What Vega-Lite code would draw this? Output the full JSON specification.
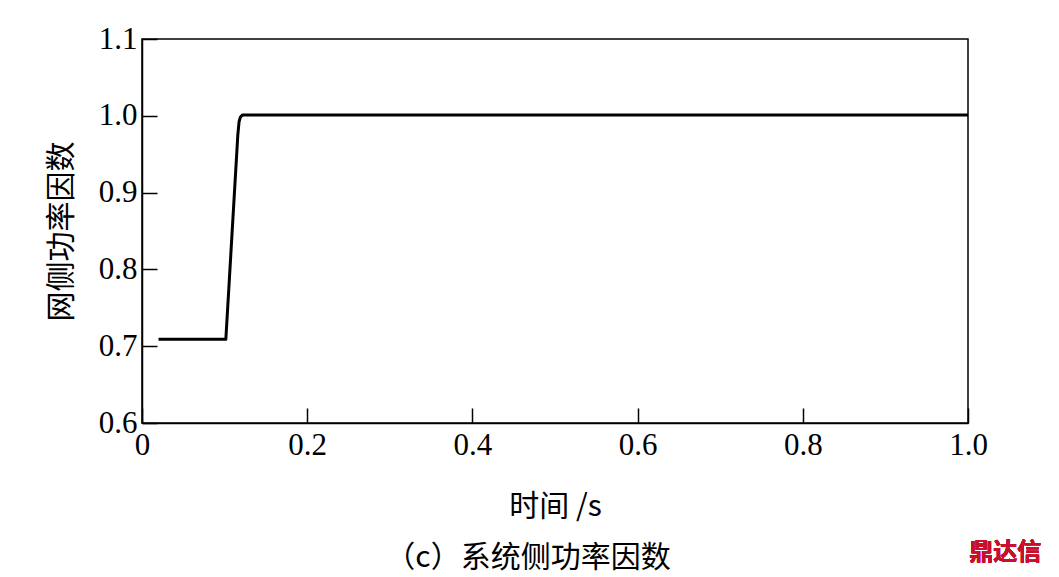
{
  "$schema": "https://vega.github.io/schema/vega-lite/v6.json",
  "width": 826,
  "height": 384,
  "autosize": "none",
  "padding": {"left": 142, "top": 39, "right": 91, "bottom": 154},
  "background": "white",
  "config": {
    "view": {"stroke": "black", "strokeWidth": 1.5},
    "axis": {
      "grid": false,
      "domainColor": "black",
      "domainWidth": 1.5,
      "tickColor": "black",
      "tickWidth": 1.5,
      "tickSize": -15,
      "labelFont": "Liberation Serif",
      "labelFontSize": 31,
      "labelColor": "black",
      "labelFlush": false,
      "titleFont": "Noto Sans CJK SC",
      "titleFontSize": 30,
      "titleFontWeight": "normal",
      "titleColor": "black"
    }
  },
  "title": {
    "text": "（c）系统侧功率因数",
    "orient": "bottom",
    "font": "Noto Sans CJK SC",
    "fontSize": 30,
    "fontWeight": "normal",
    "color": "black",
    "offset": -22,
    "dx": -27
  },
  "data": {
    "values": [
      {"t": 0.02, "pf": 0.709},
      {"t": 0.1015, "pf": 0.709},
      {"t": 0.116, "pf": 0.975},
      {"t": 0.1175, "pf": 0.992},
      {"t": 0.119, "pf": 0.998},
      {"t": 0.1215, "pf": 1.001},
      {"t": 0.3, "pf": 1.001},
      {"t": 0.6, "pf": 1.001},
      {"t": 1.0, "pf": 1.001}
    ]
  },
  "layer": [
    {
      "mark": {"type": "line", "color": "black", "strokeWidth": 3, "strokeJoin": "round"},
      "encoding": {
        "x": {
          "field": "t",
          "type": "quantitative",
          "scale": {"domain": [0, 1.0], "nice": false},
          "axis": {
            "values": [0, 0.2, 0.4, 0.6, 0.8, 1.0],
            "labelExpr": "datum.value == 0 ? '0' : format(datum.value, '.1f')",
            "labelPadding": 22,
            "title": "时间 /s",
            "titlePadding": 31
          }
        },
        "y": {
          "field": "pf",
          "type": "quantitative",
          "scale": {"domain": [0.6, 1.1], "nice": false, "zero": false},
          "axis": {
            "values": [0.6, 0.7, 0.8, 0.9, 1.0, 1.1],
            "format": ".1f",
            "labelPadding": 20,
            "title": "网侧功率因数",
            "titlePadding": 22
          }
        }
      }
    },
    {
      "mark": {"type": "text", "text": "鼎达信", "font": "Noto Sans CJK SC", "fontWeight": "bold", "fontSize": 24, "color": "#c8102e", "clip": false},
      "encoding": {
        "x": {"datum": 1.045, "type": "quantitative"},
        "y": {"datum": 0.431, "type": "quantitative"}
      }
    }
  ]
}
